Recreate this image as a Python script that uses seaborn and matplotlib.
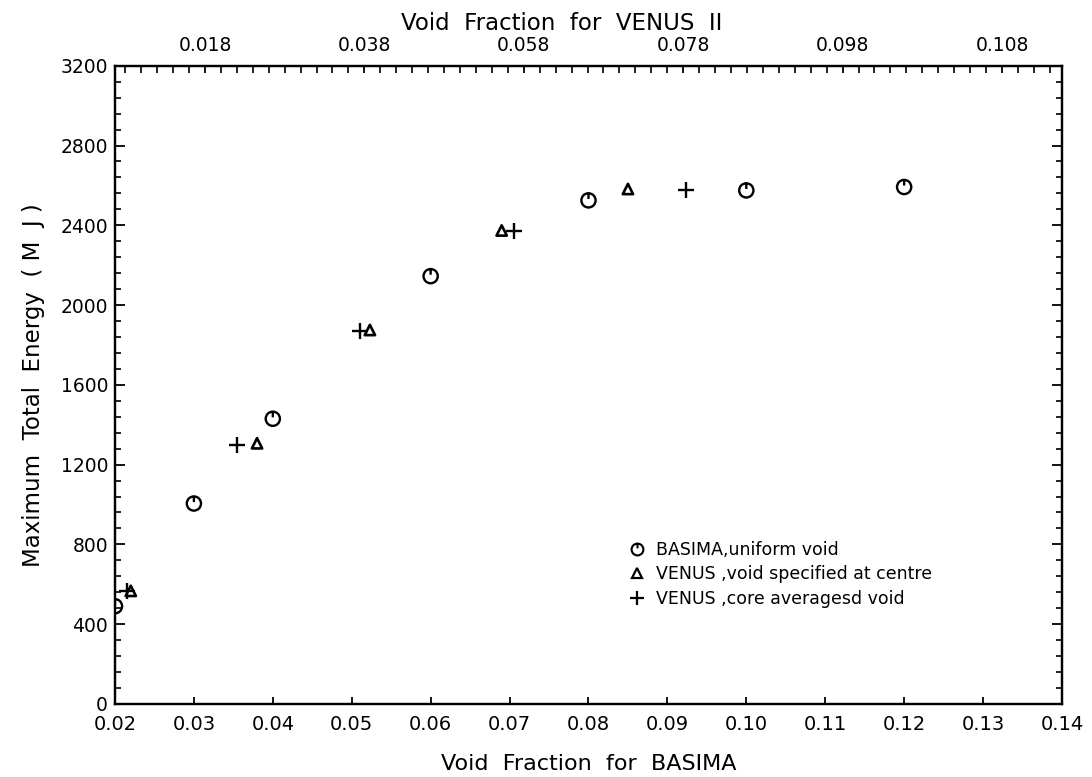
import numpy as np
import matplotlib
matplotlib.use("Agg")
import matplotlib.pyplot as plt
from matplotlib.path import Path
from matplotlib.lines import Line2D
import seaborn as sns

# ---- data ----
basima_x = [0.020, 0.030, 0.040, 0.060, 0.080, 0.100, 0.120]
basima_y = [490, 1005, 1430, 2145, 2525, 2575, 2592]

centre_x = [0.022, 0.038, 0.0523, 0.069, 0.085]
centre_y = [567, 1307, 1875, 2374, 2582]

core_x = [0.0215, 0.0355, 0.051, 0.0706, 0.0924]
core_y = [565, 1298, 1870, 2371, 2579]

bottom_ticks = [0.02, 0.03, 0.04, 0.05, 0.06, 0.07, 0.08, 0.09, 0.10, 0.11, 0.12, 0.13, 0.14]
bottom_labels = ["0.02", "0.03", "0.04", "0.05", "0.06", "0.07", "0.08",
                 "0.09", "0.10", "0.11", "0.12", "0.13", "0.14"]
top_ticks = [0.0314, 0.0516, 0.0718, 0.0920, 0.1122, 0.1324]
top_labels = ["0.018", "0.038", "0.058", "0.078", "0.098", "0.108"]
y_ticks = [0, 400, 800, 1200, 1600, 2000, 2400, 2800, 3200]

legend_labels = ["BASIMA,uniform void",
                 "VENUS ,void specified at centre",
                 "VENUS ,core averagesd void"]

# ---- style ----
sns.set_style("ticks")
plt.rcParams["font.family"] = ["DejaVu Sans"]
for k in ("text.color", "axes.labelcolor", "xtick.color", "ytick.color", "axes.edgecolor"):
    plt.rcParams[k] = "black"

fig = plt.figure(figsize=(10.92, 7.77), dpi=100)
ax = fig.add_axes([0.1053, 0.0940, 0.8672, 0.8214])

# circle with a short vertical stroke (like the plotter glyph)
circ = Path.unit_circle()
stroke = Path([[0, 1.0], [0, 0.2]], [Path.MOVETO, Path.LINETO])
circ_marker = Path.make_compound_path(circ, stroke)

sns.scatterplot(x=basima_x, y=basima_y, ax=ax, marker=circ_marker, s=105,
                facecolor="none", edgecolor="black", linewidth=1.7)
sns.scatterplot(x=centre_x, y=centre_y, ax=ax, marker="^", s=55,
                facecolor="none", edgecolor="black", linewidth=1.9)
sns.scatterplot(x=core_x, y=core_y, ax=ax, marker="+", s=130,
                color="black", linewidth=1.7)

ax.set_xlim(0.02, 0.14)
ax.set_ylim(0, 3200)

ax.set_xticks(bottom_ticks)
ax.set_xticklabels(bottom_labels)
ax.set_yticks(y_ticks)
ax.set_yticks(np.arange(0, 3201, 80), minor=True)

ax.tick_params(axis="x", which="major", direction="in", length=5, width=1.3,
               labelsize=14, pad=8, top=False)
ax.tick_params(axis="y", which="major", direction="in", length=7, width=1.3,
               labelsize=13.5, pad=5, right=True)
ax.tick_params(axis="y", which="minor", direction="in", length=4.5, width=1.2,
               right=True)

ax.set_xlabel("Void  Fraction  for  BASIMA", fontsize=16, labelpad=14)
ax.set_ylabel("Maximum  Total  Energy  ( M  J )", fontsize=16.5, labelpad=11)

# top axis (VENUS II void fraction)
ax2 = ax.twiny()
ax2.set_xlim(ax.get_xlim())
ax2.set_xticks(top_ticks)
ax2.set_xticklabels(top_labels)
minor_top = np.concatenate([np.arange(top_ticks[0], 0.02, -0.00202),
                            np.arange(top_ticks[0], 0.14, 0.00202)])
ax2.set_xticks(minor_top, minor=True)
ax2.tick_params(axis="x", which="major", direction="in", length=5, width=1.3,
                labelsize=13.5, pad=8)
ax2.tick_params(axis="x", which="minor", direction="in", length=5, width=1.2)
ax2.set_xlabel("Void  Fraction  for  VENUS  II", fontsize=16.5, labelpad=8)
ax2.xaxis.set_label_coords((562 - 115) / 947, 1.0 + 36 / 638)

for a in (ax, ax2):
    for s in a.spines.values():
        s.set_linewidth(1.6)
        s.set_color("black")

# legend
handles = [
    Line2D([], [], linestyle="none", marker=circ_marker, markersize=8.5,
           markerfacecolor="none", markeredgecolor="black", markeredgewidth=1.5),
    Line2D([], [], linestyle="none", marker="^", markersize=7,
           markerfacecolor="none", markeredgecolor="black", markeredgewidth=1.6),
    Line2D([], [], linestyle="none", marker="+", markersize=10,
           markeredgecolor="black", markeredgewidth=1.6),
]
ax.legend(handles, legend_labels, loc="upper left",
          bbox_to_anchor=(620 / 1092, 1 - 532 / 777), bbox_transform=fig.transFigure,
          frameon=False, fontsize=12.5, handlelength=1.0, handletextpad=0.6,
          labelspacing=0.38, borderpad=0)

fig.savefig("out.png", dpi=100)
